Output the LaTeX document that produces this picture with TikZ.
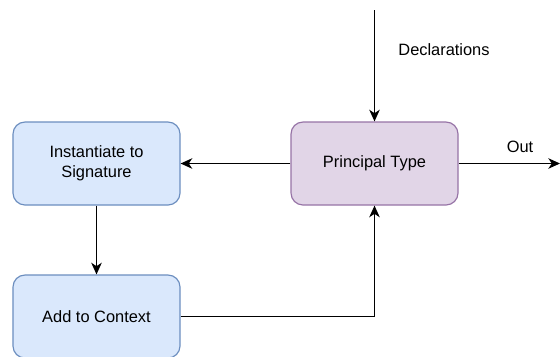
\documentclass[tikz,border=0pt]{standalone}
\usepackage{fontspec}
\setmainfont{Liberation Sans}
\usetikzlibrary{arrows.meta}
\definecolor{bluefill}{HTML}{DAE8FC}
\definecolor{blueline}{HTML}{6C8EBF}
\definecolor{purplefill}{HTML}{E1D5E7}
\definecolor{purpleline}{HTML}{9673A6}
\tikzset{
  stepbox/.style={draw, rounded corners=0.36cm, line width=1pt, minimum width=5.01cm,
    minimum height=2.49cm, align=center, font=\fontsize{14}{17}\selectfont},
  bluebox/.style={stepbox, fill=bluefill, draw=blueline},
  purplebox/.style={stepbox, fill=purplefill, draw=purpleline},
  flow/.style={-{Stealth[length=10pt,width=9pt,inset=3pt]}, line width=1.1pt},
  lbl/.style={font=\fontsize{14}{17}\selectfont}
}
\begin{document}
\begin{tikzpicture}[x=0.03cm,y=-0.03cm]
	\useasboundingbox (0,0) rectangle (560,356);

	\node[bluebox] (inst) at (96.5,163.5) {Instantiate to\\Signature};
	\node[bluebox] (ctx) at (96.5,316.5) {Add to Context};
	\node[purplebox] (ptype) at (374.5,163.5) {Principal Type};

	\coordinate (decl) at (374.5,10);
	\coordinate (out) at (560,163.5);

	\draw[flow] (decl) -- (ptype.north);
	\node[lbl] (decllbl) at (444,50) {Declarations};

	\draw[flow] (ptype.east) -- (out);
	\node[lbl] (outlbl) at (520,147) {Out};

	\draw[flow] (ptype.west) -- (inst.east);
	\draw[flow] (inst.south) -- (ctx.north);
	\draw[flow] (ctx.east) -| (ptype.south);
\end{tikzpicture}
\end{document}
